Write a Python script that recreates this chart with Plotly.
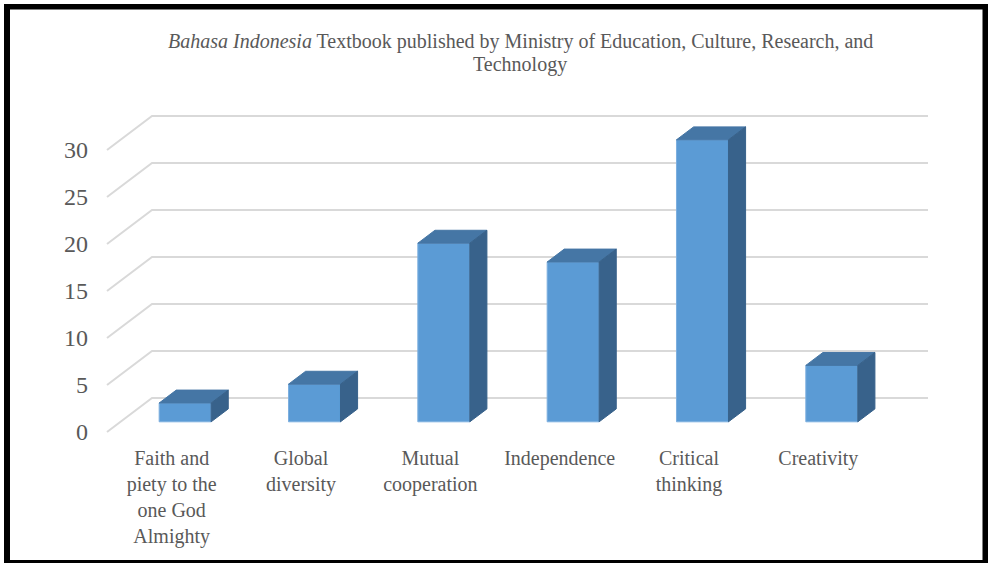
import plotly.graph_objects as go

# ---- data ----
categories = [
    "Faith and<br>piety to the<br>one God<br>Almighty",
    "Global<br>diversity",
    "Mutual<br>cooperation",
    "Independence",
    "Critical<br>thinking",
    "Creativity",
]
values = [2, 4, 19, 17, 30, 6]
y_ticks = [0, 5, 10, 15, 20, 25, 30]
title_line1 = "<i>Bahasa Indonesia</i> Textbook published by Ministry of Education, Culture, Research, and"
title_line2 = "Technology"

# ---- style / projection constants ----
W, H = 988, 563
ML, MR, MT, MB = 100, 40, 100, 123
PX_PER_X = 129.33
PX_PER_V = 9.4
X_RANGE = [-(107 - ML) / PX_PER_X, (W - MR - 107) / PX_PER_X]
V_RANGE = [-(H - MB - 432) / PX_PER_V, (432 - MT) / PX_PER_V]
DX = 45 / PX_PER_X      # depth offset in x units
DV = 34 / PX_PER_V      # depth offset in value units
HALF_W = 0.201
D0, D1 = 0.30, 0.68
GRID = "#D9D9D9"
FRONT, TOP, SIDE = "#5B9BD5", "#4576A5", "#38628B"
TXT = "#595959"
FONT = "Liberation Serif, Times New Roman, serif"

n = len(categories)


def proj(x, v, d):
    return x + d * DX, v + d * DV


fig = go.Figure()

# back wall gridlines with left floor diagonal
for t in y_ticks:
    pts = [proj(0, t, 0), proj(0, t, 1), proj(n, t, 1)]
    fig.add_trace(go.Scatter(
        x=[p[0] for p in pts], y=[p[1] for p in pts], mode="lines",
        line=dict(color=GRID, width=2), hoverinfo="skip", showlegend=False))

# 3D bars
for i, v in enumerate(values):
    xl, xr = i + 0.5 - HALF_W, i + 0.5 + HALF_W
    faces = [
        ([(xl, 0, D0), (xr, 0, D0), (xr, v, D0), (xl, v, D0)], FRONT, "#7DAFDF"),
        ([(xl, v, D0), (xr, v, D0), (xr, v, D1), (xl, v, D1)], TOP, TOP),
        ([(xr, 0, D0), (xr, 0, D1), (xr, v, D1), (xr, v, D0)], SIDE, SIDE),
    ]
    for corners, fc, lc in faces:
        pts = [proj(*c) for c in corners]
        pts.append(pts[0])
        fig.add_trace(go.Scatter(
            x=[p[0] for p in pts], y=[p[1] for p in pts], mode="lines",
            fill="toself", fillcolor=fc, line=dict(color=lc, width=1),
            hoverinfo="skip", showlegend=False))


def px2paper(px, py):
    return (px - ML) / (W - ML - MR), (H - MB - py) / (H - MT - MB)


shapes = []
for (x0, y0, x1, y1) in [(4, 4, 988, 9.5), (4, 4, 10, 563), (4, 560, 988, 563), (982.5, 4, 988, 563)]:
    a0, b0 = px2paper(x0, y1)
    a1, b1 = px2paper(x1, y0)
    shapes.append(dict(type="rect", xref="paper", yref="paper", x0=a0, y0=b0, x1=a1, y1=b1,
                       fillcolor="black", line=dict(width=0), layer="above"))

annotations = []
for txt, py in [(title_line1, 42), (title_line2, 65)]:
    ax, ay = px2paper(520, py)
    annotations.append(dict(text=txt, x=ax, y=ay, xref="paper", yref="paper",
                            xanchor="center", yanchor="middle", showarrow=False,
                            font=dict(family=FONT, size=20, color=TXT)))

fig.update_layout(
    width=W, height=H,
    margin=dict(l=ML, r=MR, t=MT, b=MB),
    paper_bgcolor="white", plot_bgcolor="white",
    xaxis=dict(range=X_RANGE, showgrid=False, zeroline=False, showline=False,
               tickmode="array", tickvals=[i + 0.5 for i in range(n)], ticktext=categories,
               tickfont=dict(family=FONT, size=20, color=TXT), ticks="", ticklabelstandoff=4,
               fixedrange=True),
    yaxis=dict(range=V_RANGE, showgrid=False, zeroline=False, showline=False,
               tickmode="array", tickvals=y_ticks, ticktext=[str(t) for t in y_ticks],
               tickfont=dict(family=FONT, size=24, color=TXT), ticks="", ticklabelstandoff=11,
               fixedrange=True),
    shapes=shapes,
    annotations=annotations,
)

fig.write_html("out.html")
